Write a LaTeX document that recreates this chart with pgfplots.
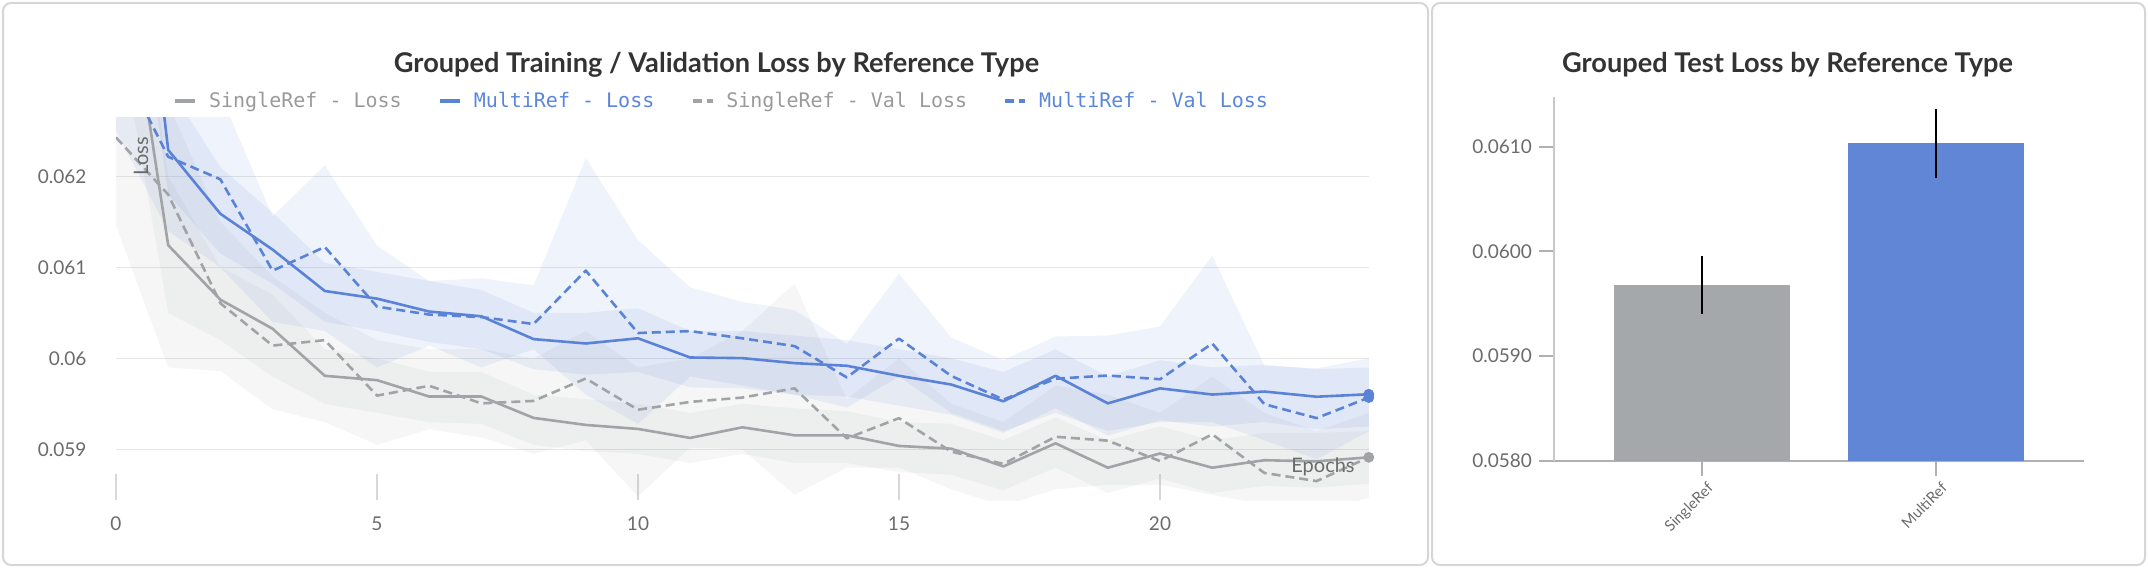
\documentclass[border=0pt]{standalone}
\usepackage{pgfplots}
\pgfplotsset{compat=1.18}
\usepackage{fontspec}
\setmainfont{Lato}
\setmonofont{DejaVu Sans Mono}
\definecolor{blueL}{HTML}{5A83D8}
\definecolor{grayL}{HTML}{A0A4A7}
\definecolor{bandB}{HTML}{5F87D6}
\definecolor{bandG}{HTML}{A2A4A8}
\definecolor{barG}{HTML}{A4A8AB}
\definecolor{barB}{HTML}{6186D6}
\definecolor{tickT}{HTML}{6B6B6B}
\definecolor{titleC}{HTML}{333333}
\definecolor{gridC}{HTML}{E6E6E6}
\definecolor{tickC}{HTML}{D8D8D8}
\definecolor{legG}{HTML}{9A9A9A}
\definecolor{legB}{HTML}{5B86DC}
\definecolor{panelC}{HTML}{D6D6D6}
\definecolor{xaxC}{HTML}{B0B0B0}
\definecolor{yaxC}{HTML}{C8C8C8}
\begin{document}
\begin{tikzpicture}
\useasboundingbox (0,0) rectangle (1074pt,284pt);
\draw[draw=panelC, line width=1pt, rounded corners=4pt] (1.5pt,1.5pt) rectangle (714pt,282.5pt);
\draw[draw=panelC, line width=1pt, rounded corners=4pt] (716pt,1.5pt) rectangle (1072.5pt,282.5pt);

\begin{axis}[
  at={(58pt,34pt)}, anchor=south west,
  width=626.4pt, height=191.5pt, scale only axis,
  xmin=0, xmax=24, ymin=0.058443, ymax=0.062652,
  scaled y ticks=false, scaled x ticks=false,
  xtick={0,5,10,15,20}, xticklabels={0,5,10,15,20},
  ytick={0.059,0.06,0.061,0.062}, yticklabels={0.059,0.06,0.061,0.062},
  axis line style={draw=none},
  tick align=inside, major tick length=13pt,
  xtick pos=bottom, ytick pos=left,
  ytick style={draw=none},
  xtick style={draw=tickC, line width=1pt},
  ymajorgrids, grid style={draw=gridC, line width=0.8pt},
  tick label style={font=\fontsize{9.5}{11}\selectfont, text=tickT},
  yticklabel style={xshift=-11.3pt},
  xticklabel style={yshift=-5pt},
  legend columns=4,
  legend cell align=left,
  legend style={at={(axis description cs:0.0459,1)}, anchor=west, yshift=8pt,
    draw=none, fill=none, inner sep=0pt, outer sep=0pt,
    font=\ttfamily\fontsize{10}{12}\selectfont, nodes={inner sep=0pt},
    /tikz/every odd column/.append style={column sep=6pt},
    /tikz/every even column/.append style={column sep=18.2pt}},
  legend image code/.code={\draw[#1, line width=1.8pt] (0pt,0pt) -- (10pt,0pt);},
]
% bands
\addplot[draw=none, fill=bandG, fill opacity=0.1, forget plot] coordinates {
(0,0.0640) (1,0.0628) (2,0.0615) (3,0.0609) (4,0.0605) (5,0.0602) (6,0.0601) (7,0.0601) (8,0.0600) (9,0.0603) (10,0.0599) (11,0.0600) (12,0.0603) (13,0.06082) (14,0.05955) (15,0.0600) (16,0.0595) (17,0.0593) (18,0.0597) (19,0.0596) (20,0.0594) (21,0.0598) (22,0.0594) (23,0.0592) (24,0.0594)
(24,0.05847) (23,0.05828) (22,0.05839) (21,0.0585) (20,0.05861) (19,0.05861) (18,0.05856) (17,0.05838) (16,0.05856) (15,0.0588) (14,0.0588) (13,0.05850) (12,0.0590) (11,0.05902) (10,0.058485) (9,0.0591) (8,0.05895) (7,0.05913) (6,0.05922) (5,0.05905) (4,0.0593) (3,0.05944) (2,0.05986) (1,0.0599) (0,0.06146)
} -- cycle;
\addplot[draw=none, fill=bandG, fill opacity=0.1, forget plot] coordinates {
(0,0.0660) (1,0.0620) (2,0.0610) (3,0.0607) (4,0.0601) (5,0.0600) (6,0.05985) (7,0.05985) (8,0.05960) (9,0.05955) (10,0.05950) (11,0.05940) (12,0.05950) (13,0.05945) (14,0.05942) (15,0.05930) (16,0.05928) (17,0.05910) (18,0.05935) (19,0.05910) (20,0.05925) (21,0.05910) (22,0.05918) (23,0.05918) (24,0.05920)
(24,0.05862) (23,0.05858) (22,0.0586) (21,0.05852) (20,0.05868) (19,0.05852) (18,0.0588) (17,0.05855) (16,0.05872) (15,0.05875) (14,0.05885) (13,0.05885) (12,0.05895) (11,0.05885) (10,0.05895) (9,0.05898) (8,0.05905) (7,0.05928) (6,0.05930) (5,0.0594) (4,0.0595) (3,0.0598) (2,0.0602) (1,0.0605) (0,0.0638)
} -- cycle;
\addplot[draw=none, fill=bandB, fill opacity=0.1, forget plot] coordinates {
(0,0.0650) (1,0.0640) (2,0.0629) (3,0.06156) (4,0.06212) (5,0.06124) (6,0.06085) (7,0.06088) (8,0.06080) (9,0.06220) (10,0.06130) (11,0.06078) (12,0.06062) (13,0.06053) (14,0.06016) (15,0.06093) (16,0.06023) (17,0.05998) (18,0.06024) (19,0.06025) (20,0.06035) (21,0.06113) (22,0.05992) (23,0.05989) (24,0.06000)
(24,0.0592) (23,0.05889) (22,0.0591) (21,0.0593) (20,0.0593) (19,0.0592) (18,0.0594) (17,0.0592) (16,0.0594) (15,0.0598) (14,0.05946) (13,0.0596) (12,0.0597) (11,0.0598) (10,0.05928) (9,0.0596) (8,0.0601) (7,0.0599) (6,0.06014) (5,0.0599) (4,0.0603) (3,0.0604) (2,0.0610) (1,0.0614) (0,0.0625)
} -- cycle;
\addplot[draw=none, fill=bandB, fill opacity=0.1, forget plot] coordinates {
(0,0.0680) (1,0.0630) (2,0.06210) (3,0.06160) (4,0.06105) (5,0.06095) (6,0.06085) (7,0.06075) (8,0.06050) (9,0.06050) (10,0.06055) (11,0.06030) (12,0.06030) (13,0.06025) (14,0.06020) (15,0.06010) (16,0.06000) (17,0.05985) (18,0.06010) (19,0.05980) (20,0.05998) (21,0.05990) (22,0.05993) (23,0.05988) (24,0.05990)
(24,0.05925) (23,0.05922) (22,0.05930) (21,0.05925) (20,0.05932) (19,0.05915) (18,0.05945) (17,0.05918) (16,0.05938) (15,0.05948) (14,0.05958) (13,0.05960) (12,0.05967) (11,0.05968) (10,0.05985) (9,0.05982) (8,0.05988) (7,0.06010) (6,0.06018) (5,0.06030) (4,0.06040) (3,0.06082) (2,0.06115) (1,0.0618) (0,0.0660)
} -- cycle;
% lines
\addplot[grayL, line width=1.3pt, line join=round] coordinates {
(0,0.0650) (1,0.061243) (2,0.060645) (3,0.060325) (4,0.059808) (5,0.05976) (6,0.05958) (7,0.05958) (8,0.059345) (9,0.059268) (10,0.059224) (11,0.059125) (12,0.059242) (13,0.059154) (14,0.059154) (15,0.059037) (16,0.059007) (17,0.058812) (18,0.059066) (19,0.058798) (20,0.058954) (21,0.058798) (22,0.05888) (23,0.058868) (24,0.058912)};
\addlegendentry{\textcolor{legG}{SingleRef - Loss}}
\addplot[blueL, line width=1.3pt, line join=round] coordinates {
(0,0.0672) (1,0.06229) (2,0.061588) (3,0.061195) (4,0.06074) (5,0.060656) (6,0.060514) (7,0.060462) (8,0.060211) (9,0.060163) (10,0.06022) (11,0.060009) (12,0.060002) (13,0.059947) (14,0.059918) (15,0.059808) (16,0.059712) (17,0.059528) (18,0.059808) (19,0.059505) (20,0.05967) (21,0.059602) (22,0.059635) (23,0.059578) (24,0.059605)};
\addlegendentry{\textcolor{legB}{MultiRef - Loss}}
\addplot[grayL, line width=1.3pt, line join=round, dash pattern=on 4.5pt off 2.5pt] coordinates {
(0,0.062428) (1,0.06180) (2,0.060605) (3,0.06014) (4,0.0602) (5,0.05959) (6,0.059698) (7,0.059505) (8,0.059532) (9,0.059778) (10,0.059435) (11,0.059521) (12,0.059569) (13,0.05967) (14,0.059121) (15,0.059342) (16,0.058975) (17,0.05884) (18,0.059138) (19,0.059095) (20,0.058871) (21,0.059165) (22,0.05874) (23,0.058651) (24,0.058912)};
\addlegendentry{\textcolor{legG}{SingleRef - Val Loss}}
\addplot[blueL, line width=1.3pt, line join=round, dash pattern=on 4.5pt off 2.5pt] coordinates {
(0,0.06335) (1,0.062215) (2,0.061967) (3,0.060963) (4,0.061224) (5,0.060568) (6,0.060481) (7,0.060453) (8,0.060377) (9,0.060964) (10,0.060278) (11,0.060299) (12,0.06022) (13,0.060134) (14,0.05979) (15,0.060217) (16,0.059807) (17,0.059546) (18,0.059776) (19,0.059811) (20,0.05977) (21,0.060163) (22,0.059496) (23,0.059343) (24,0.059569)};
\addlegendentry{\textcolor{legB}{MultiRef - Val Loss}}
% end dots
\addplot[only marks, mark=*, mark size=2.5pt, grayL, forget plot] coordinates {(24,0.058912)};
\addplot[only marks, mark=*, mark size=2.5pt, blueL, forget plot] coordinates {(24,0.059605) (24,0.059569)};
\end{axis}

\begin{axis}[
  at={(777pt,53.65pt)}, anchor=south west,
  width=265pt, height=182pt, scale only axis,
  xmin=-0.632, xmax=1.632, ymin=0.058, ymax=0.061477,
  scaled y ticks=false, scaled x ticks=false,
  axis x line=bottom, axis y line=left,
  x axis line style={-, draw=xaxC, line width=1pt},
  y axis line style={-, draw=yaxC, line width=1pt},
  xtick={0,1}, xticklabels={SingleRef,MultiRef},
  ytick={0.058,0.059,0.06,0.061}, yticklabels={0.0580,0.0590,0.0600,0.0610},
  tick align=outside, major tick length=7.5pt,
  tick style={draw=xaxC, line width=1pt},
  yticklabel style={font=\fontsize{9.5}{11}\selectfont, text=tickT},
  xticklabel style={font=\fontsize{7.5}{9}\selectfont, text=tickT, rotate=45, anchor=north east, xshift=3pt},
]
\addplot[ybar, bar width=88pt, bar shift=0pt, fill=barG, draw=none,
  error bars/.cd, y dir=both, y explicit, error mark=none,
  error bar style={black, line width=1pt}]
  coordinates {(0,0.059678) +- (0,0.000275)};
\addplot[ybar, bar width=88pt, bar shift=0pt, fill=barB, draw=none,
  error bars/.cd, y dir=both, y explicit, error mark=none,
  error bar style={black, line width=1pt}]
  coordinates {(1,0.061034) +- (0,0.00033)};
\end{axis}

\node[font=\bfseries\fontsize{13.6}{16}\selectfont, text=titleC] at (358.25pt,251.5pt) {Grouped Training / Validation Loss by Reference Type};
\node[font=\bfseries\fontsize{13.6}{16}\selectfont, text=titleC] at (893.75pt,251.5pt) {Grouped Test Loss by Reference Type};
\node[rotate=90, font=\fontsize{10}{12}\selectfont, text=tickT] at (70.5pt,206pt) {Loss};
\node[font=\fontsize{10}{12}\selectfont, text=tickT] at (661.5pt,50.5pt) {Epochs};
\end{tikzpicture}
\end{document}
